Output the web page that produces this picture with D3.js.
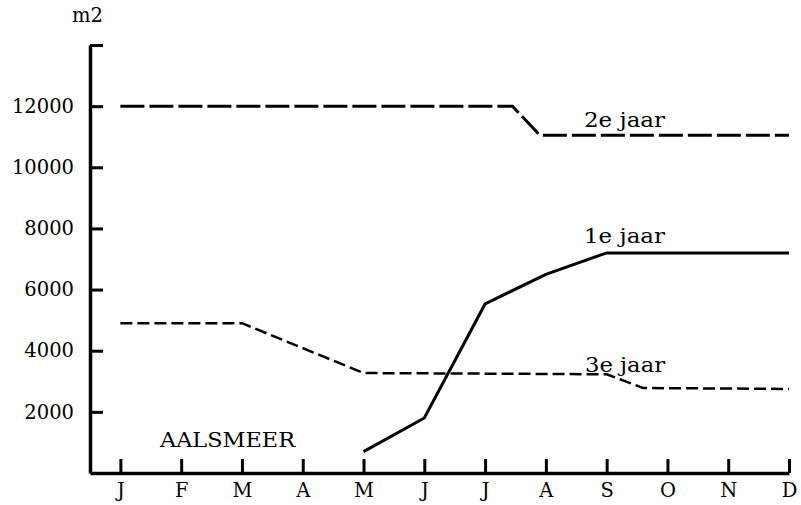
<!DOCTYPE html>
<meta charset="utf-8">
<script src="https://d3js.org/d3.v7.min.js"></script>
<style>
  body { margin: 0; background: #fff; }
  text { font-family: "DejaVu Serif", serif; fill: #000; }
</style>
<div id="my_dataviz"></div>
<script>
  // month labels (position = index)
  var months = ["J", "F", "M", "A", "M", "J", "J", "A", "S", "O", "N", "D"];
  var yTicks = [2000, 4000, 6000, 8000, 10000, 12000, 14000];

  // 1e jaar (solid)
  var jaar1X = [4, 5, 6, 7, 8, 11];
  var jaar1Y = [700, 1800, 5530, 6500, 7200, 7200];
  // 2e jaar (long dash)
  var jaar2X = [0, 6.45, 6.9, 11];
  var jaar2Y = [12000, 12000, 11050, 11050];
  // 3e jaar (short dash)
  var jaar3X = [0, 2, 4, 8, 8.6, 11];
  var jaar3Y = [4900, 4900, 3270, 3230, 2780, 2750];

  var width = 801, height = 505;

  var svg = d3.select("#my_dataviz")
    .append("svg")
    .attr("width", width)
    .attr("height", height);

  var x = d3.scaleLinear().domain([-0.5, 11]).range([90, 789]);
  var y = d3.scaleLinear().domain([0, 14000]).range([473, 45]);

  // y axis, ticks pointing inward
  svg.append("g")
    .attr("transform", "translate(90,0)")
    .call(d3.axisLeft(y)
      .tickValues(yTicks)
      .tickSizeInner(-13)
      .tickSizeOuter(0)
      .tickPadding(16)
      .tickFormat(function (d) { return d == 14000 ? "" : d; }));

  // x axis, ticks pointing up
  svg.append("g")
    .attr("transform", "translate(0,473)")
    .call(d3.axisBottom(x)
      .tickValues(d3.range(12))
      .tickSizeInner(-14)
      .tickSizeOuter(0)
      .tickPadding(10)
      .tickFormat(function (d) { return months[d]; }));

  svg.selectAll(".domain").attr("stroke", "#000").attr("stroke-width", 3.5);
  svg.selectAll(".tick line").attr("stroke", "#000").attr("stroke-width", 3);
  svg.selectAll(".tick text")
    .style("font-family", "DejaVu Serif")
    .style("font-size", "19.5px")
    .attr("fill", "#000");

  var line = d3.line()
    .x(function (d) { return x(d[0]); })
    .y(function (d) { return y(d[1]); });

  function pairs(xs, ys) {
    return xs.map(function (v, i) { return [v, ys[i]]; });
  }

  svg.append("path")
    .datum(pairs(jaar2X, jaar2Y))
    .attr("d", line)
    .attr("fill", "none")
    .attr("stroke", "#000")
    .attr("stroke-width", 3)
    .attr("stroke-dasharray", "24,5");

  svg.append("path")
    .datum(pairs(jaar1X, jaar1Y))
    .attr("d", line)
    .attr("fill", "none")
    .attr("stroke", "#000")
    .attr("stroke-width", 3);

  svg.append("path")
    .datum(pairs(jaar3X, jaar3Y))
    .attr("d", line)
    .attr("fill", "none")
    .attr("stroke", "#000")
    .attr("stroke-width", 2.5)
    .attr("stroke-dasharray", "12,5");

  // labels
  function label(tx, ty, len, s) {
    svg.append("text").attr("x", tx).attr("y", ty)
      .style("font-size", "20px")
      .attr("textLength", len)
      .attr("lengthAdjust", "spacingAndGlyphs")
      .text(s);
  }
  label(72, 22, 31, "m2");
  label(160, 447, 135, "AALSMEER");
  label(584, 127, 81, "2e jaar");
  label(584, 243, 81, "1e jaar");
  label(585, 372, 80, "3e jaar");
</script>
